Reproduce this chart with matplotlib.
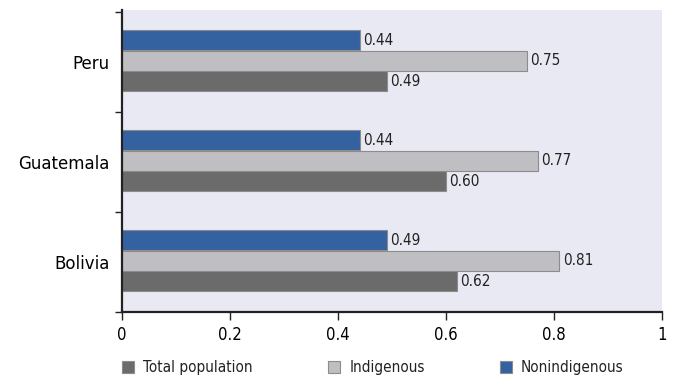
import matplotlib.pyplot as plt
import numpy as np

# Data (bottom to top)
countries = ['Bolivia', 'Guatemala', 'Peru']
total_pop = [0.62, 0.60, 0.49]
indigenous = [0.81, 0.77, 0.75]
nonindigenous = [0.49, 0.44, 0.44]

series_names = ['Total population', 'Indigenous', 'Nonindigenous']
colors = ['#6b6b6b', '#bfbfc3', '#3461a0']

fig = plt.figure(figsize=(6.73, 3.78), dpi=100)
ax = fig.add_axes([0.1813, 0.1746, 0.8024, 0.7989])
ax.set_facecolor('#e9e9f3')

y = np.arange(len(countries))
h = 0.2
num_font = {'family': 'DejaVu Sans', 'stretch': 'condensed'}

series = [total_pop, indigenous, nonindigenous]
offsets = [-0.19, 0.015, 0.22]
for vals, off, col, name in zip(series, offsets, colors, series_names):
    bars = ax.barh(y + off, vals, height=h, color=col, edgecolor='#8c8c8c',
                   linewidth=0.8, label=name, zorder=2)
    for b, v in zip(bars, vals):
        ax.text(v + 0.006, b.get_y() + h / 2, f'{v:.2f}', va='center', ha='left',
                fontsize=11, color='#222222', **num_font)

ax.set_xlim(0, 1)
ax.set_ylim(-0.5, 2.52)
ax.set_xticks([0, 0.2, 0.4, 0.6, 0.8, 1])
ax.set_xticklabels(['0', '0.2', '0.4', '0.6', '0.8', '1'], fontsize=12, **num_font)
ax.set_yticks(y)
ax.set_yticklabels(countries, fontsize=12)
ax.tick_params(axis='y', length=0, pad=9)
ax.set_yticks([-0.5, 0.5, 1.5, 2.5], minor=True)
ax.tick_params(axis='y', which='minor', length=5, width=1, color='#222222')
ax.tick_params(axis='x', length=6, width=1, color='#222222', pad=4)

for s in ['top', 'right']:
    ax.spines[s].set_visible(False)
ax.spines['left'].set_linewidth(1.6)
ax.spines['bottom'].set_linewidth(1.6)
ax.spines['left'].set_color('#222222')
ax.spines['bottom'].set_color('#222222')

leg = ax.legend(loc='upper left', bbox_to_anchor=(0, -0.16), ncol=3,
                frameon=False, handlelength=0.8, handleheight=0.8,
                handletextpad=0.6, borderaxespad=0, borderpad=0,
                columnspacing=4.9, prop={'size': 11, **num_font})
for t in leg.get_texts():
    t.set_color('#222222')

plt.savefig('out.png', dpi=100)
